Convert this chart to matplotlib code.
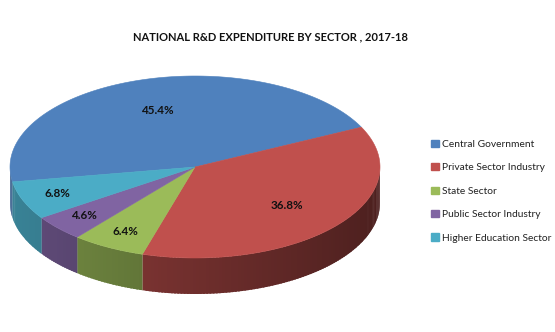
import numpy as np
import matplotlib.pyplot as plt
from matplotlib.patches import Polygon, Patch
from matplotlib.colors import to_rgb

sectors = ["Central Government", "Private Sector Industry", "State Sector",
           "Public Sector Industry", "Higher Education Sector"]
shares = [45.4, 36.8, 6.4, 4.6, 6.8]
colors = ["#4F81BD", "#C0504D", "#9BBB59", "#8064A2", "#4BACC6"]
title = "NATIONAL R&D EXPENDITURE BY SECTOR , 2017-18"

# tilted pie layout, in pixels of the 555x332 frame
cx, cy = 195, 167
rx, ry = 185, 91
depth = 36
start = 189.4


def ell(t, dz=0):
    t = np.radians(t)
    return cx + rx * np.cos(t), cy - ry * np.sin(t) + dz


fig = plt.figure(figsize=(5.55, 3.32), dpi=100)
ax = fig.add_axes([0, 0, 1, 1])
ax.set_xlim(0, 555)
ax.set_ylim(332, 0)
ax.axis("off")

fracs = np.array(shares) / sum(shares)
ends = start - 360 * np.cumsum(fracs)
starts = np.concatenate([[start], ends[:-1]])

# side walls (only the front half shows), shaded darker to the right
for a0, a1, c in zip(starts, ends, colors):
    base = np.array(to_rgb(c))
    ts = np.append(np.arange(a1, a0, 1.0), a0)
    for t0, t1 in zip(ts[:-1], ts[1:]):
        mid = np.radians((t0 + t1) / 2)
        if np.sin(mid) >= 0:
            continue
        col = base * (0.58 - 0.18 * np.cos(mid))
        x0, y0 = ell(t0)
        x1, y1 = ell(min(t1 + 0.6, a0))
        quad = [(x0, y0), (x1, y1), (x1, y1 + depth), (x0, y0 + depth)]
        ax.add_patch(Polygon(quad, closed=True, facecolor=col, lw=0))

# top face
for a0, a1, c in zip(starts, ends, colors):
    ts = np.linspace(a0, a1, 200)
    xs, ys = ell(ts)
    pts = [(cx, cy)] + list(zip(xs, ys))
    ax.add_patch(Polygon(pts, closed=True, facecolor=c, edgecolor=c, lw=0.4))

# percent labels
for a0, a1, v in zip(starts, ends, shares):
    mid = np.radians((a0 + a1) / 2)
    f = 0.8 if v < 10 else 0.65
    ax.text(cx + f * rx * np.cos(mid), cy - f * ry * np.sin(mid), f"{v}%",
            ha="center", va="center", fontsize=8.4, fontweight="bold",
            family="Lato", color="#111111")

fig.text(0.487, 0.888, title, ha="center", va="center", fontsize=8.0,
         fontweight="bold", family="Lato", color="#111111")

handles = [Patch(facecolor=c, edgecolor=c) for c in colors]
fig.legend(handles, sectors, loc="center left", bbox_to_anchor=(0.768, 0.424),
           frameon=False, handlelength=0.7, handleheight=0.7,
           handletextpad=0.35, labelspacing=1.38, borderpad=0,
           prop={"family": "Lato", "size": 7.4}, labelcolor="#222222")

fig.savefig("out.png", dpi=100)
